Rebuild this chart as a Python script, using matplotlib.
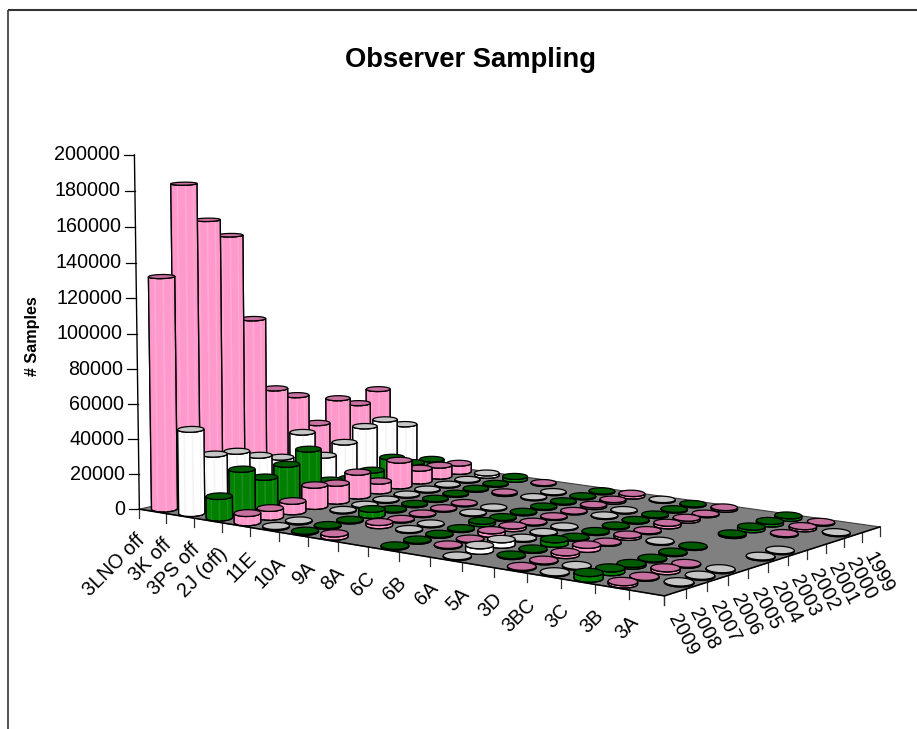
import numpy as np, matplotlib
matplotlib.use('Agg')
import matplotlib.pyplot as plt
from matplotlib.patches import Polygon
plt.rcParams['font.family']=['Liberation Sans','DejaVu Sans']

title='Observer Sampling'
y_label='# Samples'
y_ticks=[0,20000,40000,60000,80000,100000,120000,140000,160000,180000,200000]
areas=['3LNO off','3K off','3PS off','2J (off)','11E','10A','9A','8A','6C','6B','6A','5A','3D','3BC','3C','3B','3A']
years=[2009,2008,2007,2006,2005,2004,2003,2002,2001,2000,1999]
s_3LNO=[132000,182500,160600,150200,100000,56700,50200,30900,43400,37900,44100]
s_3K  =[47700,30900,29800,24700,20800,32800,16400,21500,28500,30000,24500]
s_3PS =[12200,24600,17200,21800,27800,6800,5100,7000,12000,6000,5200]
s_2J  =[5200,5000,6000,12200,10400,13900,5800,15300,7700,6700,5100]
s_11E =[600,600,0,500,500,500,500,500,500,500,1500]
s_10A =[600,600,500,3500,500,500,500,500,500,500,1800]
s_9A  =[1800,0,1800,500,500,500,500,0,800,0,500]
s_8A  =[0,0,500,500,0,500,500,0,500,500,0]
s_6C  =[500,500,500,500,1500,500,500,500,500,500,500]
s_6B  =[0,500,500,2000,1500,500,500,500,1000,1000,1500]
s_6A  =[500,3000,3000,500,500,500,0,500,500,0,500]
s_5A  =[0,500,500,2500,500,500,500,500,500,500,500]
s_3D  =[500,500,1500,2200,500,1200,500,1500,1200,500,1000]
s_3BC =[500,500,0,0,0,500,0,0,0,0,0]
s_3C  =[3000,2000,1000,500,500,500,0,800,1500,1500,1500]
s_3B  =[1200,500,1500,500,0,0,0,0,500,1200,500]
s_3A  =[0,500,500,500,0,500,500,0,0,500,0]
series=[s_3LNO,s_3K,s_3PS,s_2J,s_11E,s_10A,s_9A,s_8A,s_6C,s_6B,s_6A,s_5A,s_3D,s_3BC,s_3C,s_3B,s_3A]

BODY=['#FF99CC','#FFFFFF','#008000']
EDGE=['#EE88BB','#E6E6E6','#006C00']
STRIPE=['#FFA8D4','#F4F4F4','#1A8C1A']
TOP=['#C8709F','#C6C6C6','#005A00']

H=np.array([[438.176,271.355,139.357],[8.77707,-9.66148,509.148],[-0.130847,0.0954653,1.]])
VP=np.array([400.,19200.,1.])
T=-0.0186/200000
nc,nr=len(areas),len(years)
def proj(c,r,z=0.):
    q=H@np.array([c/nc,r/nr,1.])+z*T*VP
    return q[:2]/q[2]
def depth(c,r):
    return (H@np.array([c/nc,r/nr,1.]))[2]

fig=plt.figure(figsize=(9.17,7.29),dpi=100)
ax=fig.add_axes([0,0,1,1]);ax.set_xlim(0,917);ax.set_ylim(729,0);ax.axis('off')
ax.plot([8,917],[10,10],color='#333333',lw=1.5,solid_capstyle='butt')
ax.plot([8,8],[9.5,729],color='#333333',lw=1.2,solid_capstyle='butt')
ax.text(470.5,59.5,title,fontsize=19.7,fontweight='bold',ha='center',va='center')
ax.text(32.5,336,y_label,fontsize=11.6,fontweight='bold',rotation=90,ha='center',va='center')

cor=np.array([proj(0,0),proj(nc,0),proj(nc,nr),proj(0,nr)])
ax.add_patch(Polygon(cor,fc='#808080',ec='#404040',lw=.8,zorder=1))
ax.plot(*zip(cor[0],cor[1],cor[2]),color='black',lw=1.1,zorder=1.5)
a0,a1=proj(0,0,0),proj(0,0,200000)
ax.plot([a0[0],a1[0]],[a0[1],a1[1]],color='black',lw=1,zorder=1.2)
for v in y_ticks:
    p=proj(0,0,v)
    ax.plot([p[0]-10,p[0]],[p[1],p[1]],color='black',lw=.9,zorder=1.2)
    ax.text(p[0]-14,p[1],f'{v}',fontsize=14.2,ha='right',va='center')
for c in range(nc+1):
    p=proj(c,0);ax.plot([p[0],p[0]],[p[1],p[1]+9],color='#303030',lw=.9,zorder=1.2)
for c,l in enumerate(areas):
    p=proj(c+.5,0)
    ax.text(p[0]-18,p[1]+19,l,fontsize=14.2,rotation=45,ha='right',va='top',rotation_mode='anchor')
for r in range(nr+1):
    p=proj(nc,r);ax.plot([p[0],p[0]],[p[1],p[1]+9],color='#303030',lw=.9,zorder=1.2)
for r,l in enumerate(years):
    p=proj(nc,r+.5)
    ax.text(p[0]+6,p[1]+19,str(l),fontsize=14.2,rotation=-62,ha='left',va='top',rotation_mode='anchor')

# cylinder footprint in cell units: first pair gives the wide image axis, second the narrow one
Uc,Vc,Us,Vs=0.27,0.245,0.29,-0.38
th=np.linspace(0,2*np.pi,49)[:-1]
cells=[(c,r) for c in range(nc) for r in range(nr) if series[c][r]>0]
cells.sort(key=lambda cr:-depth(cr[0]+.5,cr[1]+.5))
z=2
for c,r in cells:
    v=series[c][r];k=c%3
    cu,cv=c+.5,r+.5
    bot=np.array([proj(cu+Uc*np.cos(t)+Us*np.sin(t),cv+Vc*np.cos(t)+Vs*np.sin(t),0) for t in th])
    top=np.array([proj(cu+Uc*np.cos(t)+Us*np.sin(t),cv+Vc*np.cos(t)+Vs*np.sin(t),v) for t in th])
    il,ir=np.argmin(bot[:,0]),np.argmax(bot[:,0])
    n=len(th)
    seq=[(il+i)%n for i in range((ir-il)%n+1)]
    if bot[seq,1].mean()<bot[:,1].mean():
        seq=[(il-i)%n for i in range((il-ir)%n+1)]
    outline=np.vstack([bot[seq],top[seq[::-1]]])
    z+=.01
    ax.add_patch(Polygon(outline,fc=BODY[k],ec='black',lw=.9,zorder=z))
    z+=.001
    for j in range(len(seq)-1):
        if np.hypot(*(top[seq[j]]-bot[seq[j]]))>6:
            f=j/(len(seq)-1)
            col=EDGE[k] if (f<.1 or f>.88) else (STRIPE[k] if j%5==2 else None)
            if col:
                ax.add_patch(Polygon([bot[seq[j]],bot[seq[j+1]],top[seq[j+1]],top[seq[j]]],fc=col,ec='none',zorder=z))
    z+=.001
    ax.add_patch(Polygon(outline,fc='none',ec='black',lw=.9,zorder=z))
    ax.add_patch(Polygon(top,fc=TOP[k],ec='black',lw=.9,zorder=z))
fig.savefig('out.png')
